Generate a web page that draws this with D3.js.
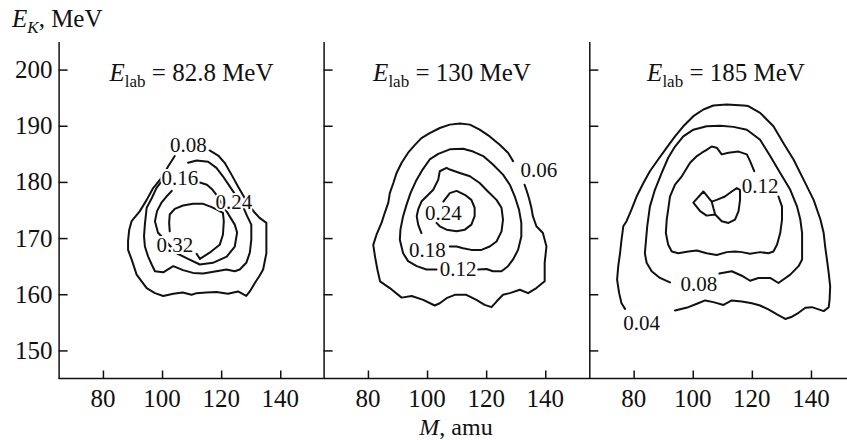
<!DOCTYPE html>
<html>
<head>
<meta charset="utf-8">
<script src="https://cdn.jsdelivr.net/npm/d3@7/dist/d3.min.js"></script>
<style>
  body { margin: 0; background: #fff; }
  text { font-family: "Liberation Serif", "Times New Roman", serif; fill: #111; }
</style>
</head>
<body>
<div id="chart"></div>
<script>
// ---- data (M in amu, E_K in MeV) ----
const massTicks = [80, 100, 120, 140];
const energyTicks = [150, 160, 170, 180, 190, 200];
const beamEnergies = ["82.8", "130", "185"];

// E_lab = 82.8 MeV
const p1_c08 = [[104.3,184.6],[102.1,182.8],[99.8,180.7],[97.0,178.9],[94.8,176.8],[92.5,174.8],[89.7,173.0],[88.9,171.5],[88.5,169.5],[88.5,167.9],[89.7,166.2],[91.4,163.5],[94.8,161.1],[97.6,160.2],[100.4,159.7],[103.8,160.1],[107.0,160.3],[110.0,159.9],[111.7,160.2],[115.0,160.3],[118.4,160.4],[122.3,160.1],[125.7,160.5],[128.5,159.7],[129.7,160.5],[131.4,162.0],[133.0,163.3],[134.2,164.4],[135.3,167.3],[135.3,170.0],[135.3,172.7],[133.0,173.6],[131.4,174.5],[129.7,175.7],[128.0,177.1],[125.7,179.2],[123.5,181.3],[121.2,183.4],[119.0,184.7],[116.1,185.6]];
const p1_c16 = [[108.8,183.4],[111.7,183.8],[115.6,183.6],[118.4,182.5],[120.6,181.0],[122.9,179.2],[125.2,177.4],[127.4,175.6],[128.8,173.9],[130.2,172.4],[130.2,169.7],[129.7,167.4],[128.5,165.6],[126.3,164.4],[124.6,164.1],[121.8,164.4],[118.4,164.1],[113.9,163.7],[110.5,163.8],[107.1,164.3],[103.8,165.0],[100.4,163.9],[97.6,164.1],[96.5,165.3],[95.3,166.7],[94.2,168.5],[93.9,170.3],[94.2,172.5],[94.8,175.4],[96.5,177.1],[98.1,178.9],[99.8,180.1]];
const p1_c24 = [[112.8,179.9],[115.2,179.5],[117.1,178.6],[118.4,177.7],[124.6,172.4],[125.4,171.0],[124.6,168.5],[121.9,166.7],[117.2,165.6],[112.8,165.3],[108.8,166.3],[105.0,167.3],[98.6,171.0],[97.6,173.0],[98.3,174.8],[99.8,176.3],[101.5,177.4],[103.3,178.4]];
const p1_c32 = [[102.6,171.2],[102.4,172.7],[102.6,174.2],[104.3,175.2],[107.1,175.8],[110.5,176.1],[113.9,176.1],[116.4,175.6],[118.4,175.1],[120.6,174.5],[120.9,173.0],[120.6,170.6],[119.5,168.8],[116.1,167.4],[112.8,166.3],[111.7,167.2]];
const p1_labels = [["0.08",108.9,185.4],["0.16",106.0,179.5],["0.24",124.3,175.1],["0.32",104.3,167.6]];

// E_lab = 130 MeV
const p2_c06 = [[129.1,183.7],[127.4,185.2],[124.6,186.6],[121.2,188.1],[117.8,189.3],[114.5,190.2],[111.1,190.4],[107.7,190.2],[104.3,189.6],[100.9,188.7],[98.1,187.8],[95.9,186.6],[93.6,185.2],[91.4,183.4],[89.7,181.6],[88.6,179.8],[87.4,178.0],[86.9,176.3],[85.7,174.5],[84.6,172.7],[82.9,170.6],[81.8,168.8],[82.4,166.7],[83.2,164.4],[84.1,162.3],[87.4,161.1],[91.4,159.4],[94.8,159.7],[98.7,159.0],[102.6,158.0],[104.3,158.4],[106.6,159.3],[109.4,159.9],[113.3,159.9],[116.7,159.0],[119.5,158.1],[121.8,157.7],[123.5,158.7],[125.7,159.9],[128.0,160.2],[131.4,160.8],[134.2,160.2],[137.0,161.1],[139.8,162.3],[139.8,165.6],[140.4,168.5],[139.2,170.9],[137.0,172.1],[135.8,173.9],[135.3,175.4],[134.5,177.1],[133.6,178.6],[133.0,179.5]];
const p2_c12 = [[103.2,164.4],[99.8,164.4],[96.5,165.0],[93.6,165.9],[91.9,167.3],[90.8,169.7],[91.0,171.5],[91.9,173.9],[93.1,176.0],[94.4,178.0],[96.2,180.1],[98.5,182.2],[100.9,184.0],[103.8,185.0],[107.7,185.8],[112.2,185.9],[115.6,185.4],[119.0,184.6],[122.3,183.1],[125.7,181.3],[128.0,179.5],[129.7,177.4],[131.1,175.1],[131.9,172.7],[131.9,170.3],[130.8,167.9],[129.1,166.2],[127.4,165.0],[125.2,164.1],[122.3,164.1],[120.1,164.5],[117.3,164.4]];
const p2_c18 = [[98.1,170.9],[97.0,172.4],[96.5,173.9],[97.0,175.1],[98.1,176.5],[99.8,177.4],[102.1,178.6],[103.8,180.4],[104.3,181.9],[106.6,182.5],[107.7,182.2],[111.1,181.6],[114.5,181.0],[117.8,179.8],[120.6,178.3],[123.5,176.8],[125.2,175.4],[125.7,173.3],[125.2,171.2],[123.5,169.4],[121.2,168.5],[118.4,167.9],[115.0,167.9],[112.2,168.2],[110.0,168.5],[107.7,168.5]];
const p2_c24 = [[105.5,176.5],[107.7,178.0],[110.0,178.4],[112.8,177.7],[115.0,176.8],[116.1,175.4],[116.1,173.9],[115.0,172.4],[112.8,171.5],[110.0,171.2],[106.6,171.5],[104.3,172.1],[103.2,172.7]];
const p2_labels = [["0.06",137.8,180.8],["0.12",110.5,163.2],["0.18",100.1,166.7],["0.24",105.5,173.2]];

// E_lab = 185 MeV
const p3_c04 = [[77.1,157.4],[75.9,158.4],[75.1,160.2],[74.4,162.6],[74.8,165.0],[75.4,167.3],[75.9,169.7],[76.5,172.1],[77.6,173.0],[79.3,175.1],[81.0,177.4],[83.3,179.8],[85.5,181.9],[88.3,184.0],[91.2,186.1],[94.0,188.1],[96.8,189.9],[100.2,191.7],[103.6,192.9],[107.0,193.6],[111.5,193.8],[117.2,193.6],[118.8,193.5],[122.8,192.3],[127.3,189.9],[130.7,186.9],[134.1,184.0],[137.5,180.4],[140.9,176.8],[143.2,173.3],[144.3,170.9],[144.8,168.5],[145.4,166.2],[146.0,163.8],[146.5,161.4],[146.3,159.0],[146.0,157.7],[144.3,157.0],[142.6,157.3],[140.3,157.7],[138.1,157.6],[135.8,156.7],[133.6,156.0],[131.3,155.6],[128.5,156.4],[125.6,157.3],[122.8,158.0],[120.0,158.4],[116.6,158.7],[113.2,158.9],[110.4,158.1],[107.0,158.6],[104.2,158.9],[101.4,158.3],[98.5,157.7],[94.0,157.1]];
const p3_c08 = [[92.3,162.1],[88.9,162.9],[86.1,164.1],[84.4,165.6],[83.8,167.3],[84.2,169.7],[84.6,172.1],[85.5,175.6],[87.2,178.6],[89.5,181.6],[91.7,184.3],[94.0,186.3],[96.8,188.1],[100.2,189.3],[104.7,189.9],[109.3,190.0],[113.8,189.8],[118.3,189.3],[122.8,187.5],[126.2,184.6],[129.6,181.6],[133.0,178.6],[135.3,175.6],[136.4,173.3],[137.0,170.9],[137.0,168.5],[137.0,166.2],[135.8,165.0],[133.0,163.5],[129.0,162.0],[126.2,162.9],[122.2,162.9],[119.4,162.4],[116.6,163.3],[113.2,164.1],[109.0,163.7]];
const p3_c12 = [[120.8,181.9],[119.4,183.7],[118.3,184.9],[115.5,185.4],[112.1,185.2],[109.8,184.9],[108.1,186.1],[106.4,186.3],[104.7,185.7],[103.1,185.2],[101.4,184.6],[99.1,183.4],[96.3,181.0],[94.0,179.5],[92.3,177.4],[91.7,175.1],[91.2,173.3],[90.9,170.9],[91.7,168.8],[92.9,167.6],[95.1,167.3],[98.5,167.6],[101.4,167.8],[104.7,167.3],[108.1,167.0],[111.5,167.5],[114.3,167.6],[116.6,167.5],[119.4,167.2],[122.8,167.5],[125.6,167.3],[127.3,167.6],[128.5,168.8],[129.6,170.9],[130.2,173.3],[130.2,175.6],[129.0,177.4]];
const p3_c16 = [[100.2,176.3],[103.6,178.3],[106.4,176.5],[108.1,176.8],[110.9,177.4],[113.2,178.3],[114.9,178.9],[116.0,178.6],[116.0,176.8],[115.5,174.8],[114.3,173.3],[112.1,172.7],[109.8,173.0],[107.6,174.2],[104.7,174.0],[102.5,174.8],[100.2,176.3],null,[106.4,176.5],[107.0,175.3],[107.6,174.2]];
const p3_labels = [["0.12",122.8,178.0],["0.08",102.1,160.5],["0.04",82.7,153.7]];

const panels = [
  { contours: [p1_c08, p1_c16, p1_c24, p1_c32], labels: p1_labels },
  { contours: [p2_c06, p2_c12, p2_c18, p2_c24], labels: p2_labels },
  { contours: [p3_c04, p3_c08, p3_c12, p3_c16], labels: p3_labels }
];

// ---- layout ----
const W = 847, H = 440;
const panelLeft = [58.6, 323.6, 589.3];
const panelWidth = 266;
const titleCenter = [191.5, 452, 726];

const svg = d3.select("#chart").append("svg")
    .attr("width", W)
    .attr("height", H);

const y = d3.scaleLinear().domain([145, 205]).range([378.5, 41.5]);

// bottom axis baseline across all panels
svg.append("line")
    .attr("x1", panelLeft[0]).attr("x2", W)
    .attr("y1", y(145)).attr("y2", y(145))
    .attr("stroke", "#111").attr("stroke-width", 1.5);

panels.forEach((p, i) => {
    const x = d3.scaleLinear().domain([65, 155]).range([panelLeft[i], panelLeft[i] + panelWidth]);
    const g = svg.append("g");

    // left axis with inward ticks
    const ya = g.append("g")
        .attr("transform", `translate(${panelLeft[i]},0)`)
        .call(d3.axisRight(y).tickValues(energyTicks).tickSize(9).tickSizeOuter(0).tickFormat(""));
    ya.selectAll("path, line").attr("stroke", "#111").attr("stroke-width", 1.5);

    // bottom ticks pointing up
    const xa = g.append("g")
        .attr("transform", `translate(0,${y(145)})`)
        .call(d3.axisTop(x).tickValues(massTicks).tickSize(8).tickSizeOuter(0).tickFormat(""));
    xa.select("path").remove();
    xa.selectAll("line").attr("stroke", "#111").attr("stroke-width", 1.5);

    g.selectAll(".mlab")
        .data(massTicks)
        .enter().append("text")
        .attr("x", d => x(d))
        .attr("y", 407)
        .attr("text-anchor", "middle")
        .attr("font-size", 25)
        .text(d => d);

    if (i === 0) {
        g.selectAll(".elab")
            .data(energyTicks)
            .enter().append("text")
            .attr("x", panelLeft[0] - 6)
            .attr("y", d => y(d))
            .attr("dy", "0.34em")
            .attr("text-anchor", "end")
            .attr("font-size", 25)
            .text(d => d);
    }

    // title
    const t = g.append("text")
        .attr("x", titleCenter[i])
        .attr("y", 81)
        .attr("text-anchor", "middle")
        .attr("font-size", 25);
    t.append("tspan").attr("font-style", "italic").text("E");
    t.append("tspan").attr("font-size", 17).attr("dy", 6).text("lab");
    t.append("tspan").attr("dy", -6).text(` = ${beamEnergies[i]} MeV`);

    // contours
    const line = d3.line()
        .defined(d => d !== null)
        .x(d => x(d[0]))
        .y(d => y(d[1]));

    g.selectAll(".contour")
        .data(p.contours)
        .enter().append("path")
        .attr("d", line)
        .attr("fill", "none")
        .attr("stroke", "#111")
        .attr("stroke-width", 2)
        .attr("stroke-linejoin", "round")
        .attr("stroke-linecap", "round");

    g.selectAll(".clab")
        .data(p.labels)
        .enter().append("text")
        .attr("x", d => x(d[1]))
        .attr("y", d => y(d[2]))
        .attr("text-anchor", "middle")
        .attr("font-size", 21)
        .attr("stroke", "#fff")
        .attr("stroke-width", 4)
        .attr("paint-order", "stroke")
        .text(d => d[0]);
});

// axis titles
const yt = svg.append("text").attr("x", 12).attr("y", 27).attr("font-size", 25);
yt.append("tspan").attr("font-style", "italic").text("E");
yt.append("tspan").attr("font-style", "italic").attr("font-size", 17).attr("dy", 6).text("K");
yt.append("tspan").attr("dy", -6).text(", MeV");

const xt = svg.append("text").attr("x", 456).attr("y", 435).attr("text-anchor", "middle").attr("font-size", 24);
xt.append("tspan").attr("font-style", "italic").text("M");
xt.append("tspan").text(", amu");
</script>
</body>
</html>
